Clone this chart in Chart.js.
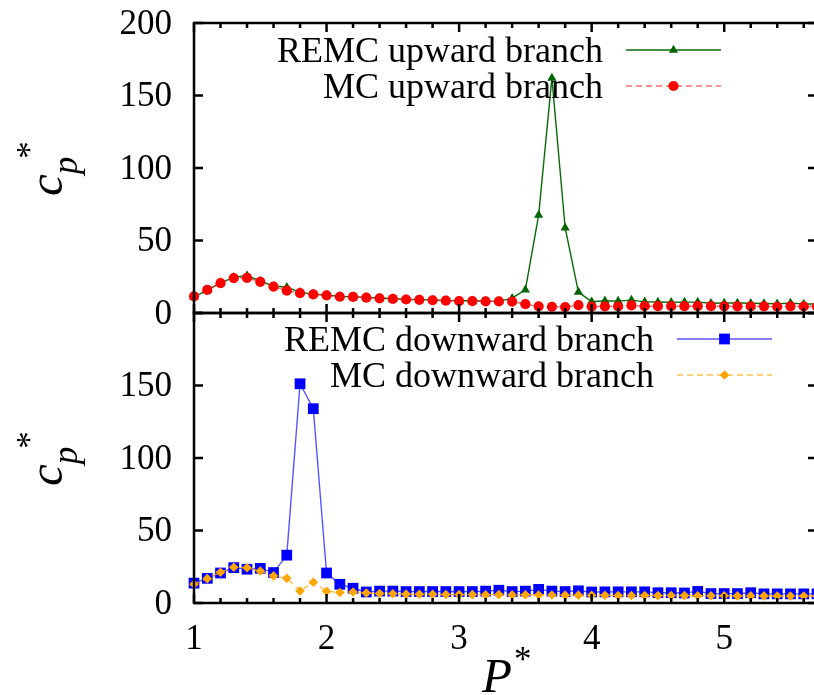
<!DOCTYPE html>
<html>
<head>
<meta charset="utf-8">
<script src="https://cdn.jsdelivr.net/npm/chart.js@4/dist/chart.umd.min.js"></script>
<style>
   html, body { margin: 0; padding: 0; overflow: hidden; background: #fff; }
   #app { width: 830px; height: 695px; }
</style>
</head>
<body>
<div id="app"><canvas id="cpChart" width="830" height="695"></canvas></div>
<script>
const pStar = [1.0, 1.1, 1.2, 1.3, 1.4, 1.5, 1.6, 1.7, 1.8, 1.9,
               2.0, 2.1, 2.2, 2.3, 2.4, 2.5, 2.6, 2.7, 2.8, 2.9,
               3.0, 3.1, 3.2, 3.3, 3.4, 3.5, 3.6, 3.7, 3.8, 3.9,
               4.0, 4.1, 4.2, 4.3, 4.4, 4.5, 4.6, 4.7, 4.8, 4.9,
               5.0, 5.1, 5.2, 5.3, 5.4, 5.5, 5.6, 5.7];

// upper panel
const remcUp = [11.0, 15.7, 20.8, 24.6, 25.8, 22.0, 18.6, 17.8, 14.2, 13.0,
                12.4, 11.5, 11.2, 10.8, 10.3, 9.8, 9.5, 9.2, 9.0, 8.6,
                8.4, 8.4, 8.2, 8.0, 10.2, 16.0, 67.5, 162.0, 58.8, 14.4,
                7.8, 8.4, 8.2, 8.9, 7.7, 7.6, 7.4, 7.5, 7.5, 6.7,
                6.9, 6.9, 6.7, 6.6, 6.4, 6.8, 6.2, 6.2];
const mcUp = [11.4, 15.9, 20.6, 24.1, 24.2, 21.5, 18.2, 15.4, 13.7, 12.8,
              12.2, 11.2, 11.1, 10.6, 10.1, 9.7, 9.3, 9.1, 8.8, 8.5,
              8.2, 8.2, 8.0, 8.0, 7.9, 6.1, 4.6, 4.3, 4.1, 5.4,
              4.4, 4.6, 4.5, 5.2, 4.7, 4.7, 4.7, 4.7, 4.7, 4.7,
              4.6, 4.6, 4.6, 4.6, 4.3, 4.6, 4.5, 4.4];

// lower panel
const remcDown = [13.7, 17.0, 20.7, 24.4, 23.3, 23.9, 21.0, 33.0, 151.2, 134.0,
                  20.7, 12.9, 10.2, 7.6, 8.2, 8.2, 7.9, 7.9, 7.9, 7.9,
                  7.9, 7.9, 8.2, 8.8, 7.9, 8.2, 9.4, 8.2, 7.9, 8.4,
                  7.6, 7.7, 7.7, 7.7, 7.7, 7.1, 7.1, 6.9, 8.0, 6.5,
                  6.5, 6.5, 7.1, 6.3, 6.3, 6.3, 6.3, 6.3];
const mcDown = [12.9, 16.8, 21.2, 24.7, 24.3, 22.1, 18.7, 17.1, 8.3, 14.3,
                8.1, 7.2, 7.6, 6.9, 6.6, 6.4, 6.1, 6.0, 6.0, 5.9,
                5.8, 5.8, 5.7, 5.8, 5.6, 5.7, 5.5, 5.5, 5.4, 5.4,
                5.3, 5.3, 5.2, 5.2, 5.2, 5.1, 5.1, 5.1, 5.0, 5.0,
                5.0, 4.9, 4.9, 4.9, 4.8, 4.8, 4.8, 4.8];

const xTicks = [1, 2, 3, 4, 5];
const yTicksUp = [0, 50, 100, 150, 200];
const yTicksDown = [0, 50, 100, 150];

const serif = '"Liberation Serif", "Times New Roman", serif';

function pts(ys) {
   return pStar.map((p, i) => ({ x: p, y: ys[i] }));
}

function series(label, ys, axis, color, line, marker, radius, dash, order) {
   return {
      label: label,
      data: pts(ys),
      yAxisID: axis,
      borderColor: line,
      borderWidth: 1.4,
      borderDash: dash,
      backgroundColor: color,
      pointBackgroundColor: color,
      pointBorderWidth: 0,
      pointStyle: marker,
      pointRadius: radius,
      fill: false,
      tension: 0,
      clip: false,
      order: order
   };
}

const sets = [
   series('REMC upward branch', remcUp, 'yUp', '#006400', '#0a6a0a', 'triangle', 5.3, [], 1),
   series('MC upward branch', mcUp, 'yUp', '#ff0000', 'rgba(255,40,40,0.7)', 'circle', 5.1, [6, 4], 0),
   series('REMC downward branch', remcDown, 'yDown', '#0000ff', 'rgba(30,30,255,0.75)', 'rect', 7.6, [], 1),
   series('MC downward branch', mcDown, 'yDown', '#ffa500', 'rgba(255,170,20,0.75)', 'rectRot', 4.8, [6, 4], 0)
];

function legendRow(ctx, ds, right, base, x0, x1) {
   ctx.font = '36px ' + serif;
   ctx.textAlign = 'right';
   ctx.textBaseline = 'alphabetic';
   ctx.fillStyle = '#000';
   ctx.fillText(ds.label, right, base);

   const ly = base - 12;
   ctx.save();
   ctx.strokeStyle = ds.borderColor;
   ctx.lineWidth = ds.borderWidth;
   ctx.setLineDash(ds.borderDash);
   ctx.beginPath();
   ctx.moveTo(x0, ly);
   ctx.lineTo(x1, ly);
   ctx.stroke();
   ctx.restore();

   ctx.save();
   ctx.fillStyle = ds.pointBackgroundColor;
   Chart.helpers.drawPoint(ctx, { pointStyle: ds.pointStyle, radius: ds.pointRadius, rotation: 0, borderWidth: 0 }, (x0 + x1) / 2, ly);
   ctx.restore();
}

function yTitle(ctx, cx, cy) {
   ctx.save();
   ctx.translate(cx, cy);
   ctx.rotate(-Math.PI / 2);
   ctx.fillStyle = '#000';
   ctx.textAlign = 'left';
   ctx.textBaseline = 'alphabetic';
   ctx.font = 'italic 49px ' + serif;
   let pos = -27;
   ctx.fillText('c', pos, 0);
   pos += ctx.measureText('c').width;
   ctx.font = 'italic 35px ' + serif;
   ctx.fillText('p', pos, 15);
   pos += ctx.measureText('p').width - 2;
   ctx.font = '35px ' + serif;
   ctx.fillText('*', pos, -21);
   ctx.restore();
}

// gnuplot style box: inward ticks on all sides, labels, titles, keys
const frame = {
   id: 'frame',
   afterDraw(chart) {
      const ctx = chart.ctx;
      const sx = chart.scales.x;
      const panels = [chart.scales.yUp, chart.scales.yDown];
      const L = chart.chartArea.left, R = chart.chartArea.right;

      ctx.save();
      ctx.strokeStyle = '#000';
      ctx.lineWidth = 2.5;
      ctx.setLineDash([]);

      panels.forEach(sc => {
         ctx.strokeRect(L, sc.top, R - L, sc.bottom - sc.top);

         ctx.beginPath();
         yTicksUp.forEach(v => {
            const y = sc.getPixelForValue(v);
            ctx.moveTo(L, y); ctx.lineTo(L + 9, y);
            ctx.moveTo(R, y); ctx.lineTo(R - 9, y);
         });
         for (let k = 0; k <= 23; k++) {
            const v = 1 + k * 0.2;
            const x = sx.getPixelForValue(v);
            const len = (k % 5 === 0) ? 9 : 5;
            ctx.moveTo(x, sc.bottom); ctx.lineTo(x, sc.bottom - len);
            ctx.moveTo(x, sc.top); ctx.lineTo(x, sc.top + len);
         }
         ctx.stroke();
      });

      ctx.fillStyle = '#000';
      ctx.font = '35px ' + serif;
      ctx.textAlign = 'right';
      ctx.textBaseline = 'middle';
      yTicksUp.forEach(v => ctx.fillText(String(v), 172, chart.scales.yUp.getPixelForValue(v) + 1.5));
      yTicksDown.forEach(v => ctx.fillText(String(v), 172, chart.scales.yDown.getPixelForValue(v) + 1.5));

      ctx.textAlign = 'center';
      xTicks.forEach(v => ctx.fillText(String(v), sx.getPixelForValue(v), chart.scales.yDown.bottom + 37));

      // P*
      ctx.textAlign = 'left';
      ctx.textBaseline = 'alphabetic';
      ctx.font = 'italic 49px ' + serif;
      ctx.fillText('P', 482, 692);
      ctx.font = '35px ' + serif;
      ctx.fillText('*', 514, 671);

      panels.forEach(sc => yTitle(ctx, 62, (sc.top + sc.bottom) / 2 + 1));

      legendRow(ctx, sets[0], 603, 62, 626, 721);
      legendRow(ctx, sets[1], 603, 98, 626, 721);
      legendRow(ctx, sets[2], 654, 351, 677, 772);
      legendRow(ctx, sets[3], 654, 387, 677, 772);

      ctx.restore();
   }
};

const myChart = new Chart(document.getElementById('cpChart').getContext('2d'), {
   type: 'line',
   data: { datasets: sets },
   options: {
      responsive: false,
      animation: false,
      layout: { padding: { left: 194, right: 13, top: 23, bottom: 92 } },
      scales: {
         x: { type: 'linear', min: 1, max: 5.7, display: false },
         // stacked on the left: the last declared scale sits on top
         yDown: { type: 'linear', min: 0, max: 200, display: false, position: 'left', stack: 'cp', stackWeight: 1 },
         yUp: { type: 'linear', min: 0, max: 200, display: false, position: 'left', stack: 'cp', stackWeight: 1 }
      },
      plugins: {
         legend: { display: false },
         tooltip: { enabled: false }
      }
   },
   plugins: [frame]
});
</script>
</body>
</html>
